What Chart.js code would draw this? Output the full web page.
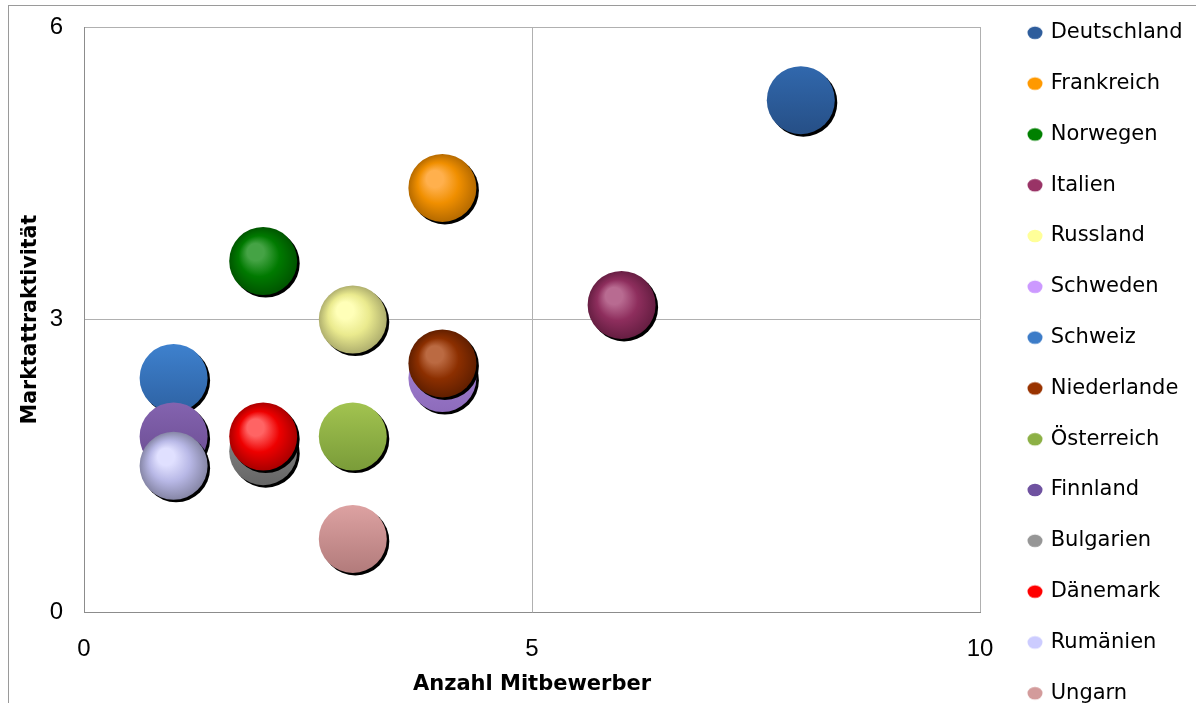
<!DOCTYPE html>
<html><head><meta charset="utf-8">
<script src="https://cdn.jsdelivr.net/npm/chart.js@4/dist/chart.umd.min.js"></script>
<style>
html,body{margin:0;padding:0;background:#fff;overflow:hidden;}
#wrap{position:relative;width:1196px;height:703px;overflow:hidden;background:#fff;}
canvas{display:block;}
</style></head><body>
<div id="wrap"><canvas id="c" width="1196" height="760"></canvas></div>
<script>
// ---- data ----
const categories = ['Deutschland','Frankreich','Norwegen','Italien','Russland','Schweden','Schweiz','Niederlande','Österreich','Finnland','Bulgarien','Dänemark','Rumänien','Ungarn'];
const mitbewerber = [8, 4, 2, 6, 3, 4, 1, 4, 3, 1, 2, 2, 1, 3];
const attraktivitaet = [5.25, 4.35, 3.6, 3.15, 3.0, 2.4, 2.4, 2.55, 1.8, 1.8, 1.65, 1.8, 1.5, 0.75];
const xTickValues = [0, 5, 10];
const yTickValues = [0, 3, 6];
const xTitle = 'Anzahl Mitbewerber';
const yTitle = 'Marktattraktivität';

// ---- styles ----
const styles = [
  {kind:'flat',   legend:'#2E5D9C', light:'#3168AD', dark:'#264F86'},
  {kind:'sphere', legend:'#FF9900', light:'#FFB04D', base:'#F08F00', dark:'#B56A00'},
  {kind:'sphere', legend:'#008000', light:'#45A345', base:'#007A00', dark:'#005500'},
  {kind:'sphere', legend:'#993366', light:'#B86B91', base:'#8E2E5D', dark:'#661E42'},
  {kind:'sphere', legend:'#FFFF99', light:'#FFFFB8', base:'#EAEA8E', dark:'#AFAF6E'},
  {kind:'flat',   legend:'#CC99FF', light:'#A886D8', dark:'#8D6BBB'},
  {kind:'flat',   legend:'#3C7CC8', light:'#3E81CE', dark:'#2E62A3'},
  {kind:'sphere', legend:'#993300', light:'#BB6A42', base:'#8C2F00', dark:'#611F00'},
  {kind:'flat',   legend:'#8CB045', light:'#A2C350', dark:'#7A9C39'},
  {kind:'flat',   legend:'#6F52A0', light:'#8463AF', dark:'#684B90'},
  {kind:'flat',   legend:'#969696', light:'#8C8C8C', dark:'#666666'},
  {kind:'sphere', legend:'#FF0000', light:'#FF6464', base:'#EE0000', dark:'#AA0000'},
  {kind:'sphere', legend:'#CCCCFF', light:'#E0E0FF', base:'#B8B8E6', dark:'#8686A6'},
  {kind:'flat',   legend:'#D39B9B', light:'#DDA2A2', dark:'#B27B7B'}
];
const BUBBLE_R = 34;

function bubbleFill(c, i) {
  const st = styles[i];
  const chart = c.chart;
  if (c.type !== 'data' || !chart.scales || !chart.scales.x || !chart.scales.y || !c.raw) return st.legend;
  const cx = chart.scales.x.getPixelForValue(c.raw.x);
  const cy = chart.scales.y.getPixelForValue(c.raw.y);
  if (!isFinite(cx) || !isFinite(cy)) return st.legend;
  const g = chart.ctx;
  const r = BUBBLE_R;
  if (st.kind === 'sphere') {
    const gr = g.createRadialGradient(cx - 0.3 * r, cy - 0.35 * r, 0, cx, cy, r);
    gr.addColorStop(0, st.light);
    gr.addColorStop(0.25, st.light);
    gr.addColorStop(0.6, st.base);
    gr.addColorStop(1, st.dark);
    return gr;
  }
  const gr = g.createLinearGradient(0, cy - r, 0, cy + r);
  gr.addColorStop(0, st.light);
  gr.addColorStop(1, st.dark);
  return gr;
}

function makeMarker(color) {
  const cv = document.createElement('canvas');
  cv.width = 40; cv.height = 16;
  const g = cv.getContext('2d');
  g.fillStyle = color;
  g.beginPath();
  g.ellipse(30, 8, 7.5, 6.3, 0, 0, Math.PI * 2);
  g.fill();
  return cv;
}
const markers = styles.map(s => makeMarker(s.legend));

const datasets = categories.map((name, i) => ({
  label: name,
  data: [{x: mitbewerber[i], y: attraktivitaet[i]}],
  radius: BUBBLE_R,
  hoverRadius: 0,
  borderWidth: 0,
  hoverBorderWidth: 0,
  order: categories.length - i,
  backgroundColor: (c) => bubbleFill(c, i),
  clip: false
}));

const outerFrame = {
  id: 'outerFrame',
  beforeDraw(chart) {
    const g = chart.ctx;
    g.save();
    g.fillStyle = '#fff';
    g.fillRect(0, 0, chart.width, chart.height);
    g.strokeStyle = '#9A9A9A';
    g.lineWidth = 1;
    g.strokeRect(8.5, 5.5, 2000, 2000);
    g.restore();
  }
};
const bubbleShadow = {
  id: 'bubbleShadow',
  beforeDatasetDraw(chart) {
    const g = chart.ctx;
    g.save();
    g.shadowColor = 'rgba(0,0,0,1)';
    g.shadowOffsetX = 2.5;
    g.shadowOffsetY = 2.5;
    g.shadowBlur = 0.5;
  },
  afterDatasetDraw(chart) {
    chart.ctx.restore();
  }
};

const tickFont = {family: "'Liberation Sans', Arial, sans-serif", size: 24};
const titleFont = {family: "'DejaVu Sans', sans-serif", weight: 'bold'};

new Chart(document.getElementById('c'), {
  type: 'bubble',
  data: {datasets},
  plugins: [outerFrame, bubbleShadow],
  options: {
    responsive: false,
    devicePixelRatio: 1,
    animation: false,
    events: [],
    layout: {autoPadding: false, padding: {left: 0, right: 11, top: -7.5, bottom: 0}},
    scales: {
      x: {
        type: 'linear',
        min: xTickValues[0],
        max: xTickValues[xTickValues.length - 1],
        afterBuildTicks: s => { s.ticks = xTickValues.map(v => ({value: v})); },
        afterFit: s => { s.height = 148; },
        grid: {color: '#B0B0B0', drawTicks: false},
        border: {color: '#8C8C8C'},
        ticks: {padding: 23, color: '#000', font: tickFont, maxRotation: 0, autoSkip: false},
        title: {display: true, text: xTitle, color: '#000', font: Object.assign({size: 21}, titleFont), padding: {top: 0, bottom: 62.4}}
      },
      y: {
        type: 'linear',
        min: yTickValues[0],
        max: yTickValues[yTickValues.length - 1],
        afterBuildTicks: s => { s.ticks = yTickValues.map(v => ({value: v})); },
        afterFit: s => { s.width = 84; },
        grid: {color: '#B0B0B0', drawTicks: true, tickLength: 18, tickColor: 'rgba(0,0,0,0)'},
        border: {color: '#8C8C8C'},
        ticks: {padding: 3, color: '#000', font: tickFont},
        title: {display: true, text: yTitle, color: '#000', font: Object.assign({size: 20.5}, titleFont), padding: {top: 18, bottom: 0}}
      }
    },
    plugins: {
      tooltip: {enabled: false},
      title: {display: true, text: '', fullSize: false, font: {size: 10}, padding: {top: 0, bottom: 22.5}},
      legend: {
        position: 'right',
        align: 'start',
        maxWidth: 205,
        labels: {
          usePointStyle: true,
          pointStyleWidth: 30.4,
          padding: 29.8,
          color: '#000',
          font: {family: "'DejaVu Sans', sans-serif", size: 21},
          sort: (a, b) => a.datasetIndex - b.datasetIndex,
          generateLabels: chart => {
            const items = Chart.defaults.plugins.legend.labels.generateLabels(chart);
            items.forEach(it => { it.pointStyle = markers[it.datasetIndex]; });
            return items;
          }
        }
      }
    }
  }
});
</script>
</body></html>
